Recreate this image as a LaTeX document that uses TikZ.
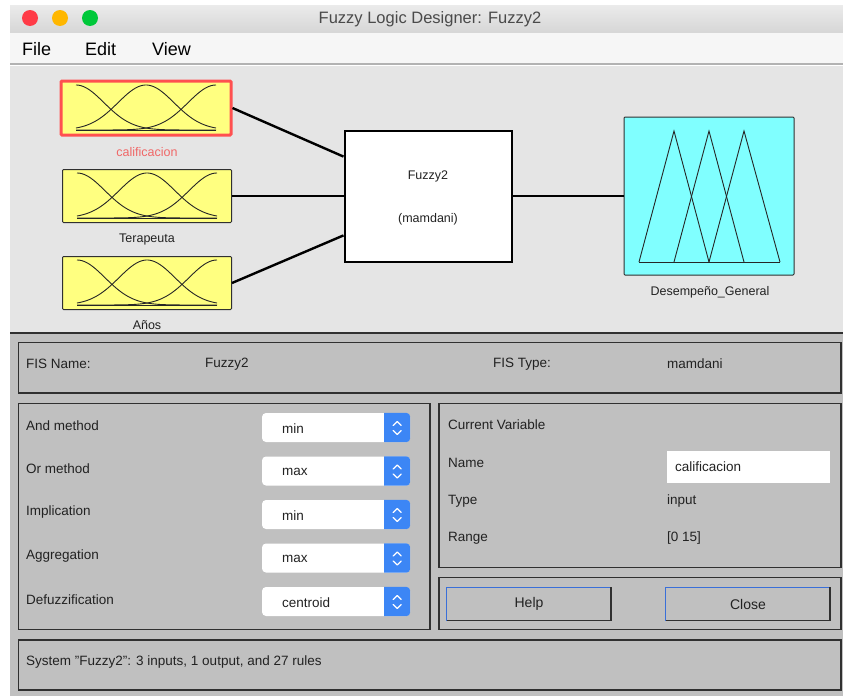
\documentclass[tikz,border=0pt]{standalone}
\usepackage{fontspec}
\setmainfont{Liberation Sans}
\usetikzlibrary{calc}
\definecolor{titletop}{HTML}{EBEBEB}
\definecolor{titlebot}{HTML}{D6D6D6}
\definecolor{titletext}{HTML}{4A4A4A}
\definecolor{menubg}{HTML}{F6F6F6}
\definecolor{diagbg}{HTML}{E5E5E5}
\definecolor{panelbg}{HTML}{C0C0C0}
\definecolor{mfyellow}{HTML}{FFFF80}
\definecolor{mfcyan}{HTML}{80FFFF}
\definecolor{selred}{HTML}{FF5050}
\definecolor{labred}{HTML}{F06868}
\definecolor{tlred}{HTML}{FF3B47}
\definecolor{tlyellow}{HTML}{FFB700}
\definecolor{tlgreen}{HTML}{00C83A}
\definecolor{popblue}{HTML}{3C86F5}
\definecolor{btnblue}{HTML}{3A6FD8}
\definecolor{darkline}{HTML}{303030}
\definecolor{txt}{HTML}{222222}
\begin{document}
\begin{tikzpicture}[x=1pt,y=-1pt,
  inbox/.style={draw=darkline,line width=1pt,fill=mfyellow,minimum width=169pt,minimum height=53pt,rounded corners=1pt,inner sep=0pt},
  varlabel/.style={font=\fontsize{12.5}{14}\selectfont,text=txt,inner sep=0pt},
  conn/.style={draw=black,line width=2.4pt},
  mf/.style={draw=black!85,line width=0.9pt},
  panel/.style={draw=darkline,line width=1.3pt},
  ptext/.style={font=\fontsize{13.5}{15}\selectfont,text=txt,anchor=west,inner sep=0pt},
  menu/.style={font=\fontsize{18}{20}\selectfont,anchor=west,inner sep=0pt},
  popup/.style={fill=white,rounded corners=4pt,minimum width=148pt,minimum height=29pt,inner sep=0pt},
  button/.style={fill=panelbg,minimum width=164pt,minimum height=33pt,inner sep=0pt,font=\fontsize{14}{16}\selectfont,text=txt}
]
\useasboundingbox (0,0) rectangle (843,696);
\fill[white] (0,0) rectangle (843,696);
% title bar
\shade[top color=titletop,bottom color=titlebot] (10,5) rectangle (843,33);
\node[font=\fontsize{16.5}{18}\selectfont,text=titletext] (title) at (430,19) {Fuzzy Logic Designer: Fuzzy2};
\fill[tlred] (30,18) circle (8pt);
\fill[tlyellow] (60,18) circle (8pt);
\fill[tlgreen] (90,18) circle (8pt);
% menu bar
\fill[menubg] (10,33) rectangle (843,64);
\draw[black!30,line width=1.5pt] (10,64) -- (843,64);
\node[menu] (mfile) at (22,49) {File};
\node[menu] (medit) at (85,49) {Edit};
\node[menu] (mview) at (152,49) {View};
% diagram area
\fill[diagbg] (10,65.5) rectangle (843,333);
% input boxes
\node[inbox,draw=selred,line width=3pt,minimum width=170pt,minimum height=54pt] (in1) at (146,108) {};
\node[inbox] (in2) at (147,196) {};
\node[inbox] (in3) at (147,283) {};
\foreach \n in {in1,in2,in3}{
  \begin{scope}[shift={($(\n.center)+(-70,22)$)}]
    \draw[mf] (0,0) -- (140,0);
    \draw[mf] plot[domain=0:140,samples=60,smooth] (\x,{-45*exp(-0.5*((\x)/28)^2)});
    \draw[mf] plot[domain=0:140,samples=60,smooth] (\x,{-45*exp(-0.5*((\x-70)/28)^2)});
    \draw[mf] plot[domain=0:140,samples=60,smooth] (\x,{-45*exp(-0.5*((\x-140)/28)^2)});
  \end{scope}
}
\node[varlabel,text=labred] (l1) at (147,152) {calificacion};
\node[varlabel] (l2) at (147,239) {Terapeuta};
\node[varlabel] (l3) at (147,325) {Años};
% system box
\node[draw=black,line width=2pt,fill=white,minimum width=167pt,minimum height=131pt,inner sep=0pt] (sys) at (428,196) {};
\node[varlabel] (sysname) at (428,176) {Fuzzy2};
\node[varlabel] (systype) at (428,219) {(mamdani)};
% output box
\node[draw=darkline,line width=1pt,fill=mfcyan,minimum width=170pt,minimum height=158pt,rounded corners=1pt,inner sep=0pt] (out) at (709,196) {};
\begin{scope}[shift={($(out.center)+(-70,66)$)}]
  \draw[mf] (0,0) -- (141,0);
  \draw[mf] (0,0) -- (35,-131) -- (70,0);
  \draw[mf] (35,0) -- (70,-131) -- (105,0);
  \draw[mf] (70,0) -- (105,-131) -- (141,0);
\end{scope}
\node[varlabel] (lout) at (710,292) {Desempeño\_General};
% connectors
\draw[conn] (in1.east) -- (sys.155);
\draw[conn] (in2.east) -- (sys.west);
\draw[conn] (in3.east) -- (sys.205);
\draw[conn] (sys.east) -- (out.west);
% lower panel
\fill[panelbg] (10,334) rectangle (843,696);
\draw[darkline,line width=2pt] (10,333) -- (843,333);
% FIS name panel
\draw[panel] (18.5,342.5) rectangle (841,393);
\node[ptext] (fisname) at (26,364) {FIS Name:};
\node[ptext] (fisnamev) at (205,364) {Fuzzy2};
\node[ptext] (fistype) at (493,364) {FIS Type:};
\node[ptext] (fistypev) at (667,364) {mamdani};
% method panel
\draw[panel] (18.5,403.5) rectangle (430,629.5);
\foreach \lab/\val/\y [count=\i] in {And method/min/427.5,Or method/max/471,Implication/min/514.5,Aggregation/max/558,Defuzzification/centroid/601.5}{
  \node[ptext] (m\i) at (26,\y-2) {\lab};
  \node[popup] (p\i) at (336,\y) {};
  \fill[popblue] ($(p\i.north east)+(-26,0)$) -- ($(p\i.north east)+(-4,0)$) arc[start angle=90,end angle=0,radius=4pt] -- ($(p\i.south east)+(0,-4)$) arc[start angle=0,end angle=-90,radius=4pt] -- ($(p\i.south east)+(-26,0)$) -- cycle;
  \draw[white,line width=1.3pt,line cap=round,line join=round] ($(p\i.east)+(-17,-2)$) -- ($(p\i.east)+(-13,-6)$) -- ($(p\i.east)+(-9,-2)$);
  \draw[white,line width=1.3pt,line cap=round,line join=round] ($(p\i.east)+(-17,3)$) -- ($(p\i.east)+(-13,7)$) -- ($(p\i.east)+(-9,3)$);
  \node[ptext] (v\i) at (282,\y+1) {\val};
}
% current variable panel
\draw[panel] (439,403.5) rectangle (841,567.5);
\node[ptext] (cv) at (448,425) {Current Variable};
\node[ptext] (cvn) at (448,463) {Name};
\node[ptext] (cvt) at (448,501) {Type};
\node[ptext] (cvr) at (448,538) {Range};
\node[fill=white,minimum width=163pt,minimum height=32pt,inner sep=0pt] (namefield) at (748.5,467) {};
\node[ptext] (cvnv) at (675,467) {calificacion};
\node[ptext] (cvtv) at (667,501) {input};
\node[ptext] (cvrv) at (667,538) {[0 15]};
% buttons panel
\draw[panel] (439,577.5) rectangle (841,629.5);
\node[button] (help) at (529,604) {Help};
\node[button] (close) at (748,604) {Close};
\foreach \b in {help,close}{
  \draw[btnblue,line width=1.3pt] (\b.south west) -- (\b.north west) -- (\b.north east);
  \draw[darkline,line width=1.5pt] (\b.north east) -- (\b.south east) -- (\b.south west);
}
% status panel
\draw[panel] (18.5,640) rectangle (841,690);
\node[ptext] (status) at (26,662) {System \symbol{"22}Fuzzy2\symbol{"22}: 3 inputs, 1 output, and 27 rules};
\end{tikzpicture}
\end{document}
